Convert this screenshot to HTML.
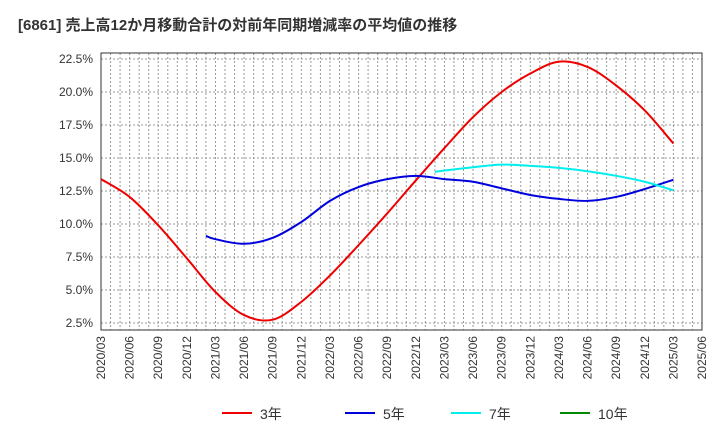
<!DOCTYPE html>
<html><head><meta charset="utf-8"><style>
body{margin:0;background:#fff;font-family:"Liberation Sans","Noto Sans CJK JP",sans-serif}
</style></head><body>
<svg id="c" width="720" height="440" xmlns="http://www.w3.org/2000/svg" font-family="Liberation Sans, Noto Sans CJK JP, sans-serif"></svg>
<script>
const xLabels=["2020/03","2020/06","2020/09","2020/12","2021/03","2021/06","2021/09","2021/12","2022/03","2022/06","2022/09","2022/12","2023/03","2023/06","2023/09","2023/12","2024/03","2024/06","2024/09","2024/12","2025/03","2025/06"];
const yTicks=[2.5,5,7.5,10,12.5,15,17.5,20,22.5];
// [monthIndex from 2020/03, value]
const s3m=[0,3,6,9,12,15,18,21,24,27,30,33,36,39,42,45,48,51,54,57,60];
const s3v=[13.4,12.05,9.9,7.4,4.85,3.1,2.75,4.1,6.1,8.4,10.8,13.3,15.75,18.1,20.0,21.4,22.3,21.9,20.5,18.6,16.1];
const s5m=[11,12,15,18,21,24,27,30,33,36,39,42,45,48,51,54,57,60];
const s5v=[9.1,8.85,8.5,8.95,10.15,11.75,12.8,13.4,13.65,13.4,13.2,12.7,12.2,11.9,11.75,12.05,12.65,13.35];
const s7m=[35,36,39,42,45,48,51,54,57,60];
const s7v=[13.95,14.05,14.3,14.5,14.4,14.25,14.0,13.65,13.2,12.55];
const L=101,R=702,T=53,B=330;
const X=m=>L+m*(R-L)/63;
const Y=v=>59+(22.5-v)/2.5*33;
const svg=document.getElementById('c');
const NS="http://www.w3.org/2000/svg";
function el(t,a,p){const e=document.createElementNS(NS,t);for(const k in a)e.setAttribute(k,a[k]);(p||svg).appendChild(e);return e;}
const title=el('text',{x:18,y:30,'font-size':15,'font-weight':'bold',fill:'#333'});


title.textContent="[6861]  売上高12か月移動合計の対前年同期増減率の平均値の推移";
const grid=el('g',{stroke:'#999','stroke-width':1,'stroke-dasharray':'2,2'});


for(let m=1;m<63;m++)el('line',{x1:X(m),x2:X(m),y1:T,y2:B},grid);
yTicks.forEach(v=>{el('line',{x1:L,x2:R,y1:Y(v),y2:Y(v)},grid);
 const t=el('text',{x:93,y:Y(v)+4,'text-anchor':'end','font-size':12,fill:'#333'});
 
 
 t.textContent=v.toFixed(1)+'%';});
xLabels.forEach((s,i)=>{const x=X(i*3);
 const t=el('text',{transform:`translate(${x+4},${B+6}) rotate(-90)`,'text-anchor':'end','font-size':12,fill:'#333'});
 
 
 t.textContent=s;});
const frame=el('rect',{x:L,y:T,width:R-L,height:B-T,fill:'none',stroke:'#333','stroke-width':1});


function path(ms,vs){const p=ms.map((m,i)=>[X(m),Y(vs[i])]);let d=`M${p[0][0]},${p[0][1]}`;
 for(let i=0;i<p.length-1;i++){const p0=p[i-1]||p[i],p1=p[i],p2=p[i+1],p3=p[i+2]||p2;
  d+=`C${p1[0]+(p2[0]-p0[0])/6},${p1[1]+(p2[1]-p0[1])/6} ${p2[0]-(p3[0]-p1[0])/6},${p2[1]-(p3[1]-p1[1])/6} ${p2[0]},${p2[1]}`;}
 return d;}
[[s3m,s3v,'#e00','series-3y'],[s5m,s5v,'#00d','series-5y'],[s7m,s7v,'#0ee','series-7y']].forEach(s=>{
 const e=el('path',{d:path(s[0],s[1]),fill:'none',stroke:s[2],'stroke-width':2});
 
 });
const leg=[['3年','#e00',222],['5年','#00d',345],['7年','#0ee',451],['10年','#080',560]];
leg.forEach(l=>{const g=el('g',{});
 
 
 el('line',{x1:l[2],x2:l[2]+30,y1:413,y2:413,stroke:l[1],'stroke-width':2},g);
 const t=el('text',{x:l[2]+38,y:419,'font-size':14,fill:'#333'},g);t.textContent=l[0];});
</script>
</body></html>
